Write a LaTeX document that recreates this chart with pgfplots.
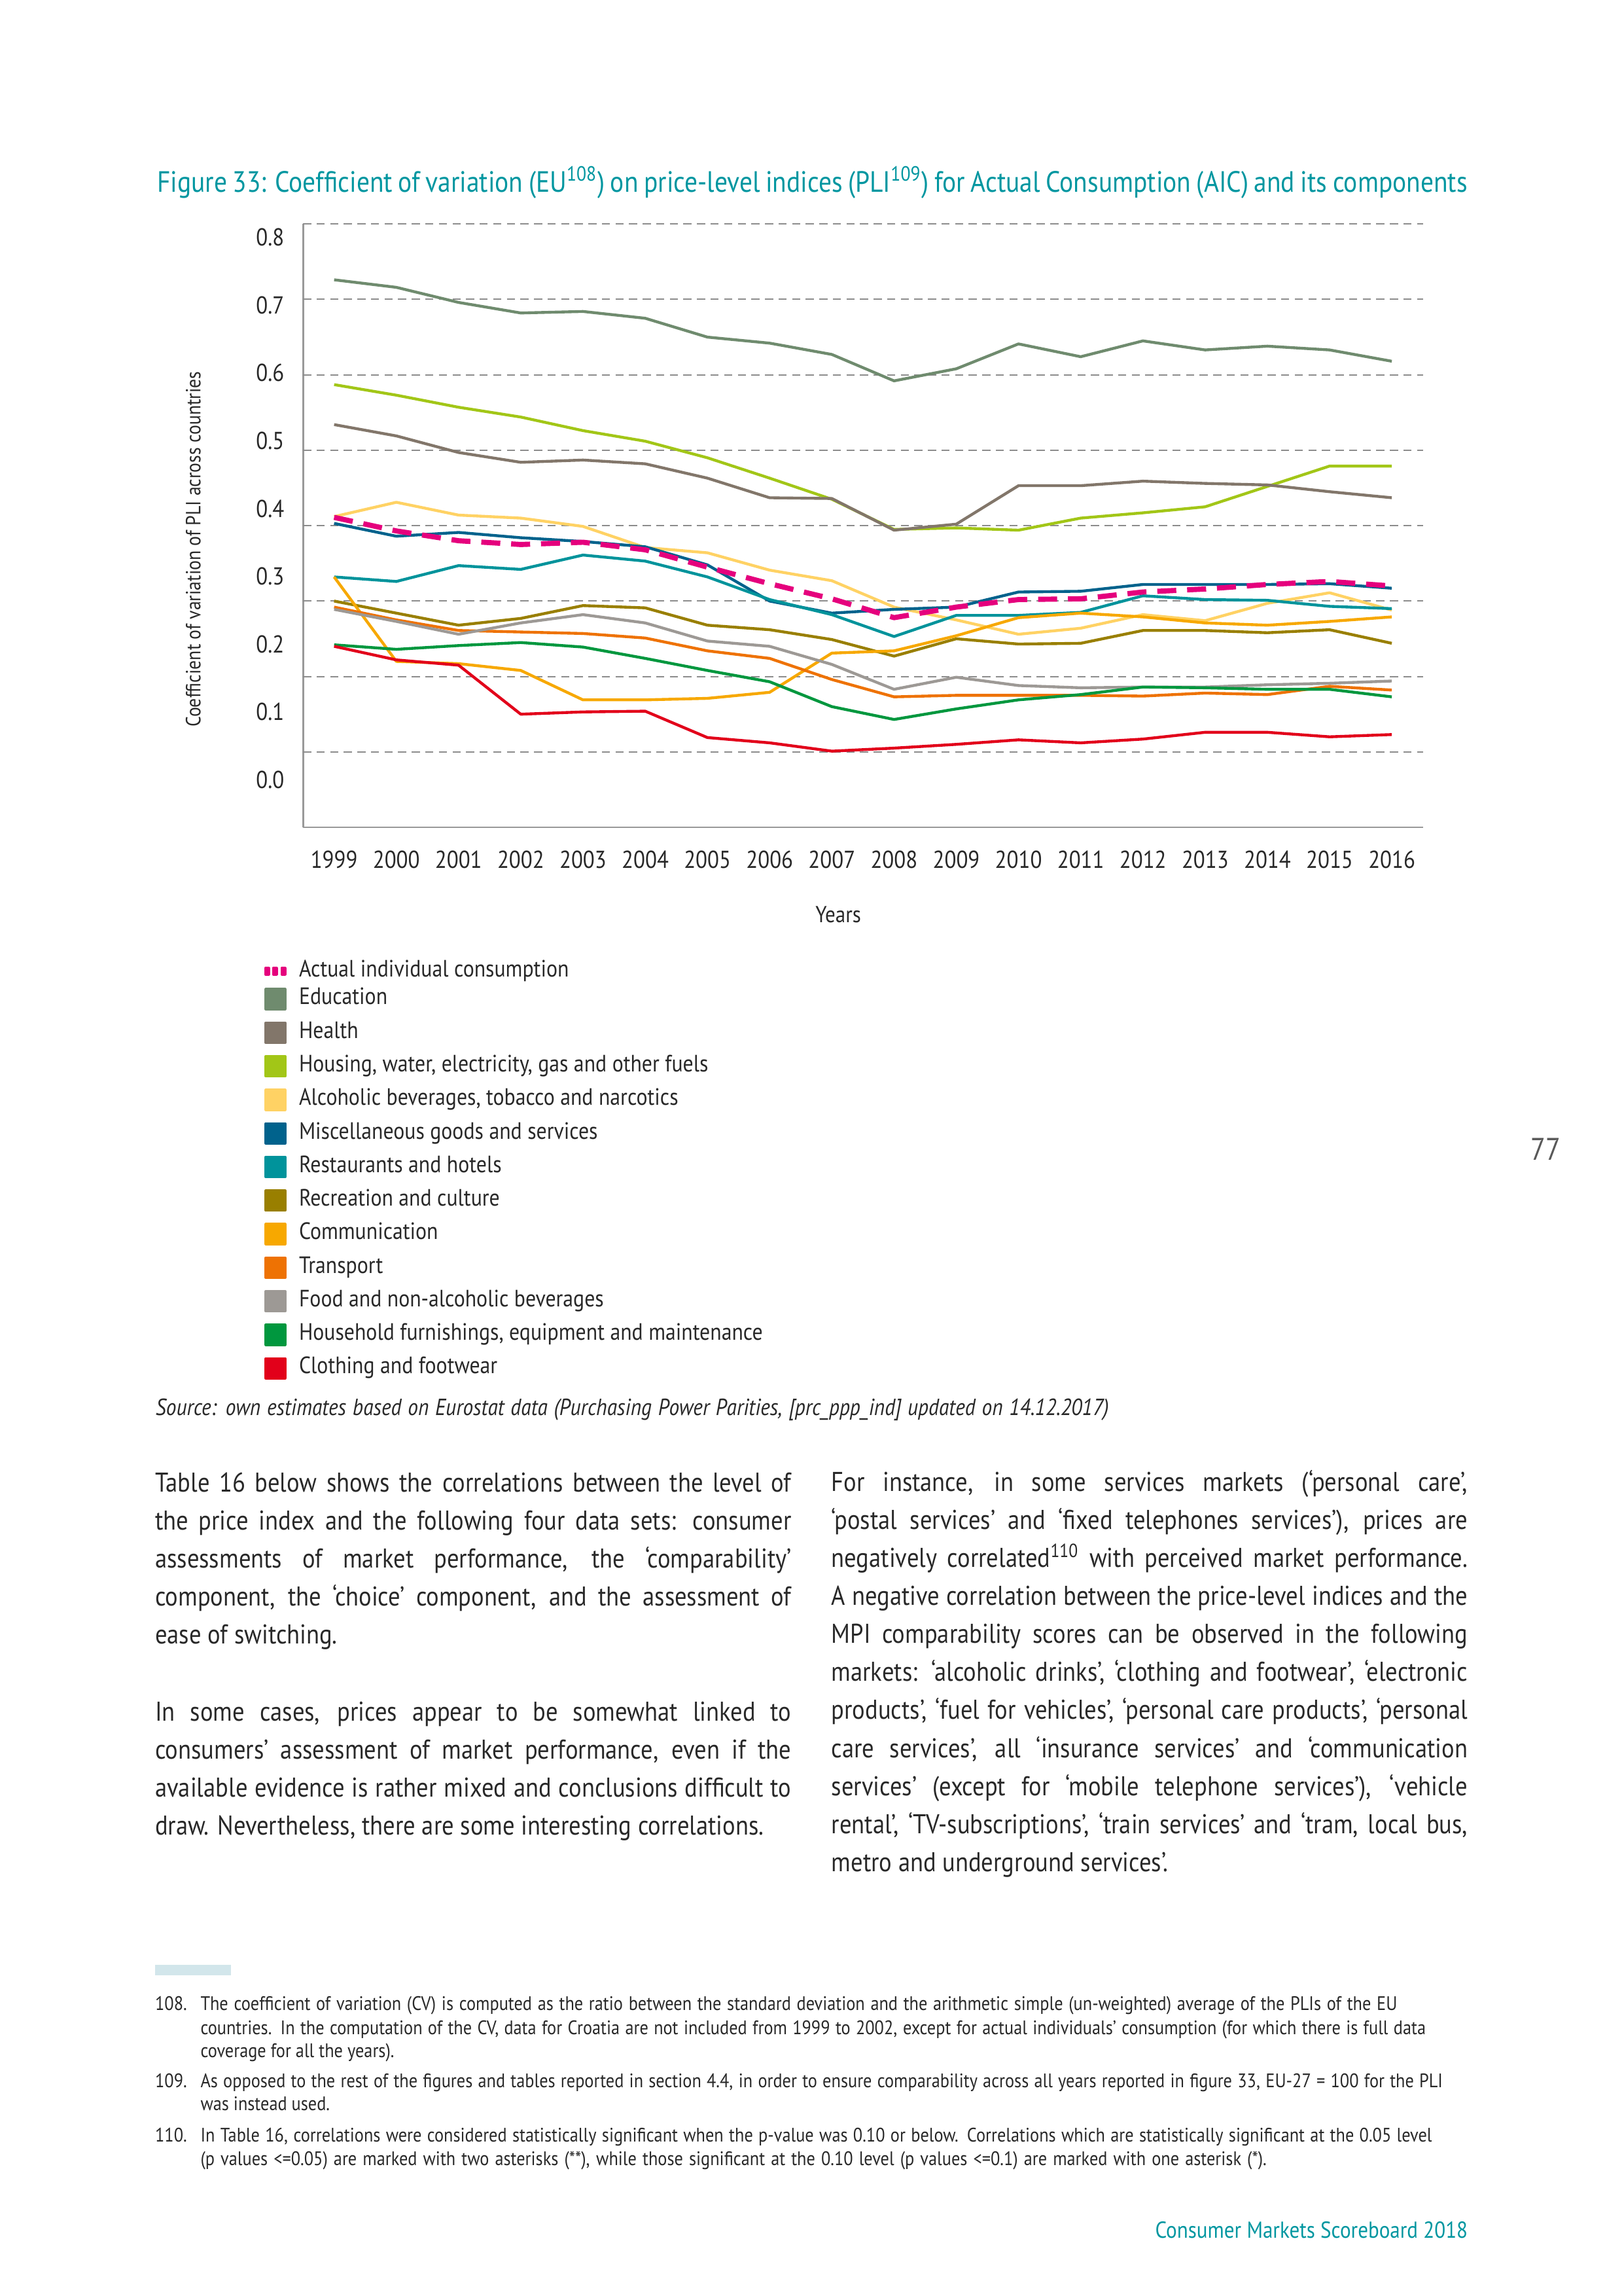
\documentclass[border=0pt]{standalone}
\usepackage{fontspec}
\setmainfont{PT Sans}[FakeStretch=0.88]
\usepackage{pgfplots}
\pgfplotsset{compat=1.18}

\definecolor{tealT}{RGB}{0,150,160}
\definecolor{bodyC}{RGB}{40,40,40}
\definecolor{aicC}{RGB}{229,0,125}
\definecolor{eduC}{RGB}{111,139,110}
\definecolor{heaC}{RGB}{130,118,106}
\definecolor{houC}{RGB}{162,198,23}
\definecolor{alcC}{RGB}{255,210,100}
\definecolor{misC}{RGB}{0,98,140}
\definecolor{resC}{RGB}{0,147,155}
\definecolor{recC}{RGB}{153,127,0}
\definecolor{comC}{RGB}{247,168,0}
\definecolor{traC}{RGB}{238,114,3}
\definecolor{fooC}{RGB}{157,153,149}
\definecolor{hhC}{RGB}{0,151,62}
\definecolor{cloC}{RGB}{226,0,26}
\definecolor{barC}{RGB}{210,230,235}

\tikzset{
  bl/.style={anchor=base west,inner sep=0pt,outer sep=0pt,font=\fontsize{10}{11}\selectfont,text=bodyC},
  fn/.style={anchor=base west,inner sep=0pt,outer sep=0pt,font=\fontsize{7.2}{8}\selectfont,text=bodyC},
}
\newcommand{\jl}[3]{\node[bl] at (#1,#2) {\makebox[82.3mm][s]{#3}};}
\newcommand{\nl}[3]{\node[bl] at (#1,#2) {#3};}
\newcommand{\sw}[1]{\addlegendimage{legend image code/.code={\fill[#1] (0mm,-1.265mm) rectangle (2.53mm,1.265mm);}}}

\begin{document}
\begin{tikzpicture}[x=0.18936mm,y=0.18936mm]
\useasboundingbox (0,0) rectangle (1109,1568);
\coordinate (AO) at (207,1003);

% Title
\node[anchor=base west,inner sep=0pt,text=tealT,font=\fontsize{10.8}{12}\selectfont] at (107,1436.8)
  {\makebox[169.5mm][s]{Figure 33: Coefficient of variation (EU\textsuperscript{108}) on price-level indices (PLI\textsuperscript{109}) for Actual Consumption (AIC) and its components}};

\begin{axis}[
  at={(AO)}, anchor=south west,
  scale only axis, width=144.86mm, height=78.02mm,
  xmin=1998.5, xmax=2016.5, ymin=0, ymax=0.8,
  axis x line*=bottom, axis y line*=left,
  axis line style={draw=black!40, line width=0.7pt, -},
  major tick length=0pt,
  xtick={1999,2000,2001,2002,2003,2004,2005,2006,2007,2008,2009,2010,2011,2012,2013,2014,2015,2016},
  xticklabels={1999,2000,2001,2002,2003,2004,2005,2006,2007,2008,2009,2010,2011,2012,2013,2014,2015,2016},
  ytick={0.063,0.1529,0.2428,0.3327,0.4226,0.5125,0.6024,0.6923,0.7822},
  yticklabels={0.0,0.1,0.2,0.3,0.4,0.5,0.6,0.7,0.8},
  extra y ticks={0.1,0.2,0.3,0.4,0.5,0.6,0.7,0.8},
  extra y tick labels={},
  extra y tick style={grid=major, major tick length=0pt},
  major grid style={draw=black!45, line width=0.5pt, dash pattern=on 3pt off 2pt},
  tick label style={font=\fontsize{9}{10}\selectfont, text=bodyC},
  xticklabel style={yshift=-5pt},
  yticklabel style={xshift=-3.4pt},
  xlabel={Years}, ylabel={Coefficient of variation of PLI across countries},
  every axis x label/.style={at={(axis description cs:0.478,-0.1447)}, anchor=center, font=\fontsize{8.5}{10}\selectfont, text=bodyC},
  every axis y label/.style={at={(axis description cs:-0.098,0.461)}, rotate=90, anchor=center, font=\fontsize{7.6}{9}\selectfont, text=bodyC},
  legend cell align=left,
  legend style={at={(axis description cs:-0.0346,-0.2289)}, anchor=north west, draw=none, fill=none,
     inner sep=0pt, outer sep=0pt, row sep=4.1pt, column sep=1.6mm,
     font=\fontsize{8.7}{10}\selectfont, text=bodyC,
     nodes={inner sep=0pt, text height=6pt, text depth=2pt}},
  every axis plot/.append style={line width=1.05pt, line join=round},
]
\addlegendimage{legend image code/.code={
   \fill[aicC] (0mm,-0.42mm) rectangle (0.38mm,0.42mm);
   \fill[aicC] (1.0mm,-0.42mm) rectangle (1.38mm,0.42mm);
   \fill[aicC] (2.1mm,-0.42mm) rectangle (2.48mm,0.42mm);}}
\addlegendentry[text height=4.2pt, text depth=0pt]{Actual individual consumption}
\sw{eduC}\addlegendentry{Education}
\sw{heaC}\addlegendentry{Health}
\sw{houC}\addlegendentry{Housing, water, electricity, gas and other fuels}
\sw{alcC}\addlegendentry{Alcoholic beverages, tobacco and narcotics}
\sw{misC}\addlegendentry{Miscellaneous goods and services}
\sw{resC}\addlegendentry{Restaurants and hotels}
\sw{recC}\addlegendentry{Recreation and culture}
\sw{comC}\addlegendentry{Communication}
\sw{traC}\addlegendentry{Transport}
\sw{fooC}\addlegendentry{Food and non-alcoholic beverages}
\sw{hhC}\addlegendentry{Household furnishings, equipment and maintenance}
\sw{cloC}\addlegendentry{Clothing and footwear}

% Education
\addplot[eduC, forget plot] coordinates {(1999,0.726)(2000,0.716)(2001,0.696)(2002,0.682)(2003,0.684)(2004,0.675)(2005,0.650)(2006,0.642)(2007,0.627)(2008,0.592)(2009,0.608)(2010,0.641)(2011,0.624)(2012,0.645)(2013,0.633)(2014,0.638)(2015,0.633)(2016,0.618)};
% Housing
\addplot[houC, forget plot] coordinates {(1999,0.587)(2000,0.573)(2001,0.557)(2002,0.544)(2003,0.526)(2004,0.512)(2005,0.490)(2006,0.463)(2007,0.435)(2008,0.395)(2009,0.397)(2010,0.394)(2011,0.410)(2012,0.417)(2013,0.425)(2014,0.452)(2015,0.479)(2016,0.479)};
% Health
\addplot[heaC, forget plot] coordinates {(1999,0.534)(2000,0.519)(2001,0.497)(2002,0.484)(2003,0.487)(2004,0.482)(2005,0.463)(2006,0.437)(2007,0.436)(2008,0.394)(2009,0.402)(2010,0.453)(2011,0.453)(2012,0.459)(2013,0.456)(2014,0.454)(2015,0.445)(2016,0.437)};
% Alcoholic
\addplot[alcC, forget plot] coordinates {(1999,0.412)(2000,0.431)(2001,0.414)(2002,0.410)(2003,0.399)(2004,0.371)(2005,0.364)(2006,0.341)(2007,0.327)(2008,0.292)(2009,0.275)(2010,0.256)(2011,0.264)(2012,0.282)(2013,0.274)(2014,0.297)(2015,0.311)(2016,0.288)};
% Misc
\addplot[misC, forget plot] coordinates {(1999,0.403)(2000,0.386)(2001,0.391)(2002,0.384)(2003,0.379)(2004,0.372)(2005,0.348)(2006,0.300)(2007,0.284)(2008,0.289)(2009,0.292)(2010,0.312)(2011,0.313)(2012,0.322)(2013,0.322)(2014,0.322)(2015,0.323)(2016,0.317)};
% Restaurants
\addplot[resC, forget plot] coordinates {(1999,0.332)(2000,0.326)(2001,0.347)(2002,0.342)(2003,0.361)(2004,0.353)(2005,0.332)(2006,0.302)(2007,0.282)(2008,0.253)(2009,0.281)(2010,0.281)(2011,0.285)(2012,0.307)(2013,0.302)(2014,0.301)(2015,0.293)(2016,0.290)};
% Recreation
\addplot[recC, forget plot] coordinates {(1999,0.300)(2000,0.284)(2001,0.268)(2002,0.277)(2003,0.294)(2004,0.291)(2005,0.268)(2006,0.262)(2007,0.249)(2008,0.227)(2009,0.250)(2010,0.243)(2011,0.244)(2012,0.261)(2013,0.261)(2014,0.258)(2015,0.262)(2016,0.244)};
% Communication
\addplot[comC, forget plot] coordinates {(1999,0.332)(2000,0.220)(2001,0.217)(2002,0.208)(2003,0.169)(2004,0.169)(2005,0.171)(2006,0.179)(2007,0.231)(2008,0.234)(2009,0.254)(2010,0.278)(2011,0.284)(2012,0.279)(2013,0.271)(2014,0.268)(2015,0.273)(2016,0.279)};
% Transport
\addplot[traC, forget plot] coordinates {(1999,0.292)(2000,0.275)(2001,0.261)(2002,0.259)(2003,0.257)(2004,0.251)(2005,0.234)(2006,0.224)(2007,0.196)(2008,0.173)(2009,0.175)(2010,0.175)(2011,0.175)(2012,0.174)(2013,0.178)(2014,0.176)(2015,0.187)(2016,0.182)};
% Food
\addplot[fooC, forget plot] coordinates {(1999,0.289)(2000,0.273)(2001,0.256)(2002,0.271)(2003,0.282)(2004,0.271)(2005,0.247)(2006,0.240)(2007,0.216)(2008,0.183)(2009,0.199)(2010,0.188)(2011,0.185)(2012,0.186)(2013,0.186)(2014,0.189)(2015,0.191)(2016,0.194)};
% Household
\addplot[hhC, forget plot] coordinates {(1999,0.242)(2000,0.236)(2001,0.241)(2002,0.245)(2003,0.239)(2004,0.224)(2005,0.208)(2006,0.193)(2007,0.160)(2008,0.143)(2009,0.157)(2010,0.169)(2011,0.176)(2012,0.186)(2013,0.185)(2014,0.183)(2015,0.183)(2016,0.173)};
% Clothing
\addplot[cloC, forget plot] coordinates {(1999,0.240)(2000,0.222)(2001,0.215)(2002,0.150)(2003,0.153)(2004,0.154)(2005,0.119)(2006,0.112)(2007,0.101)(2008,0.105)(2009,0.110)(2010,0.116)(2011,0.112)(2012,0.117)(2013,0.126)(2014,0.126)(2015,0.120)(2016,0.123)};
% AIC
\addplot[aicC, line width=1.9pt, dash pattern=on 7pt off 4pt, forget plot] coordinates {(1999,0.411)(2000,0.393)(2001,0.380)(2002,0.375)(2003,0.378)(2004,0.368)(2005,0.345)(2006,0.323)(2007,0.303)(2008,0.278)(2009,0.292)(2010,0.302)(2011,0.303)(2012,0.312)(2013,0.316)(2014,0.322)(2015,0.326)(2016,0.320)};
\end{axis}

% Source
\node[anchor=base west,inner sep=0pt,font=\fontsize{8.6}{9}\selectfont\itshape,text=bodyC] at (106,601.6)
  {\makebox[123.3mm][s]{Source: own estimates based on Eurostat data (Purchasing Power Parities, [prc\_ppp\_ind] updated on 14.12.2017)}};

% Left column
\jl{106}{549}{Table 16 below shows the correlations between the level of}
\jl{106}{523.1}{the price index and the following four data sets: consumer}
\jl{106}{497.2}{assessments of market performance, the ‘comparability’}
\jl{106}{471.3}{component, the ‘choice’ component, and the assessment of}
\nl{106}{445.4}{ease of switching.}
\jl{106}{392.5}{In some cases, prices appear to be somewhat linked to}
\jl{106}{366.6}{consumers’ assessment of market performance, even if the}
\jl{106}{340.7}{available evidence is rather mixed and conclusions difficult to}
\nl{106}{314.8}{draw. Nevertheless, there are some interesting correlations.}

% Right column
\jl{568}{549.5}{For instance, in some services markets (‘personal care’,}
\jl{568}{523.55}{‘postal services’ and ‘fixed telephones services’), prices are}
\jl{568}{497.6}{negatively correlated\textsuperscript{110} with perceived market performance.}
\jl{568}{471.65}{A negative correlation between the price-level indices and the}
\jl{568}{445.7}{MPI comparability scores can be observed in the following}
\jl{568}{419.75}{markets: ‘alcoholic drinks’, ‘clothing and footwear’, ‘electronic}
\jl{568}{393.8}{products’, ‘fuel for vehicles’, ‘personal care products’, ‘personal}
\jl{568}{367.85}{care services’, all ‘insurance services’ and ‘communication}
\jl{568}{341.9}{services’ (except for ‘mobile telephone services’), ‘vehicle}
\jl{568}{315.95}{rental’, ‘TV-subscriptions’, ‘train services’ and ‘tram, local bus,}
\nl{568}{290.0}{metro and underground services’.}

% Footnote bar
\fill[barC] (106,219) rectangle (158,226);

% Footnotes
\node[fn] at (106,195.1) {108.};
\node[fn] at (137,195.1) {\makebox[154.8mm][s]{The coefficient of variation (CV) is computed as the ratio between the standard deviation and the arithmetic simple (un-weighted) average of the PLIs of the EU}};
\node[fn] at (137,178.7) {\makebox[158.5mm][s]{countries. In the computation of the CV, data for Croatia are not included from 1999 to 2002, except for actual individuals’ consumption (for which there is full data}};
\node[fn] at (137,163) {coverage for all the years).};
\node[fn] at (106,142.2) {109.};
\node[fn] at (137,142.2) {\makebox[160.7mm][s]{As opposed to the rest of the figures and tables reported in section 4.4, in order to ensure comparability across all years reported in figure 33, EU-27 = 100 for the PLI}};
\node[fn] at (137,126.5) {was instead used.};
\node[fn] at (106,105.3) {110.};
\node[fn] at (137,105.3) {\makebox[159.3mm][s]{In Table 16, correlations were considered statistically significant when the p-value was 0.10 or below. Correlations which are statistically significant at the 0.05 level}};
\node[fn] at (137,89.2) {\makebox[137.9mm][s]{(p values <=0.05) are marked with two asterisks (**), while those significant at the 0.10 level (p values <=0.1) are marked with one asterisk (*).}};

% Page number and footer
\node[anchor=center,inner sep=0pt,font=\fontsize{11.5}{14}\selectfont,text=black!65] at (1056,783) {77};
\node[anchor=base east,inner sep=0pt,font=\fontsize{8.5}{10}\selectfont,text=tealT] at (1003,39.5) {Consumer Markets Scoreboard 2018};
\end{tikzpicture}
\end{document}
